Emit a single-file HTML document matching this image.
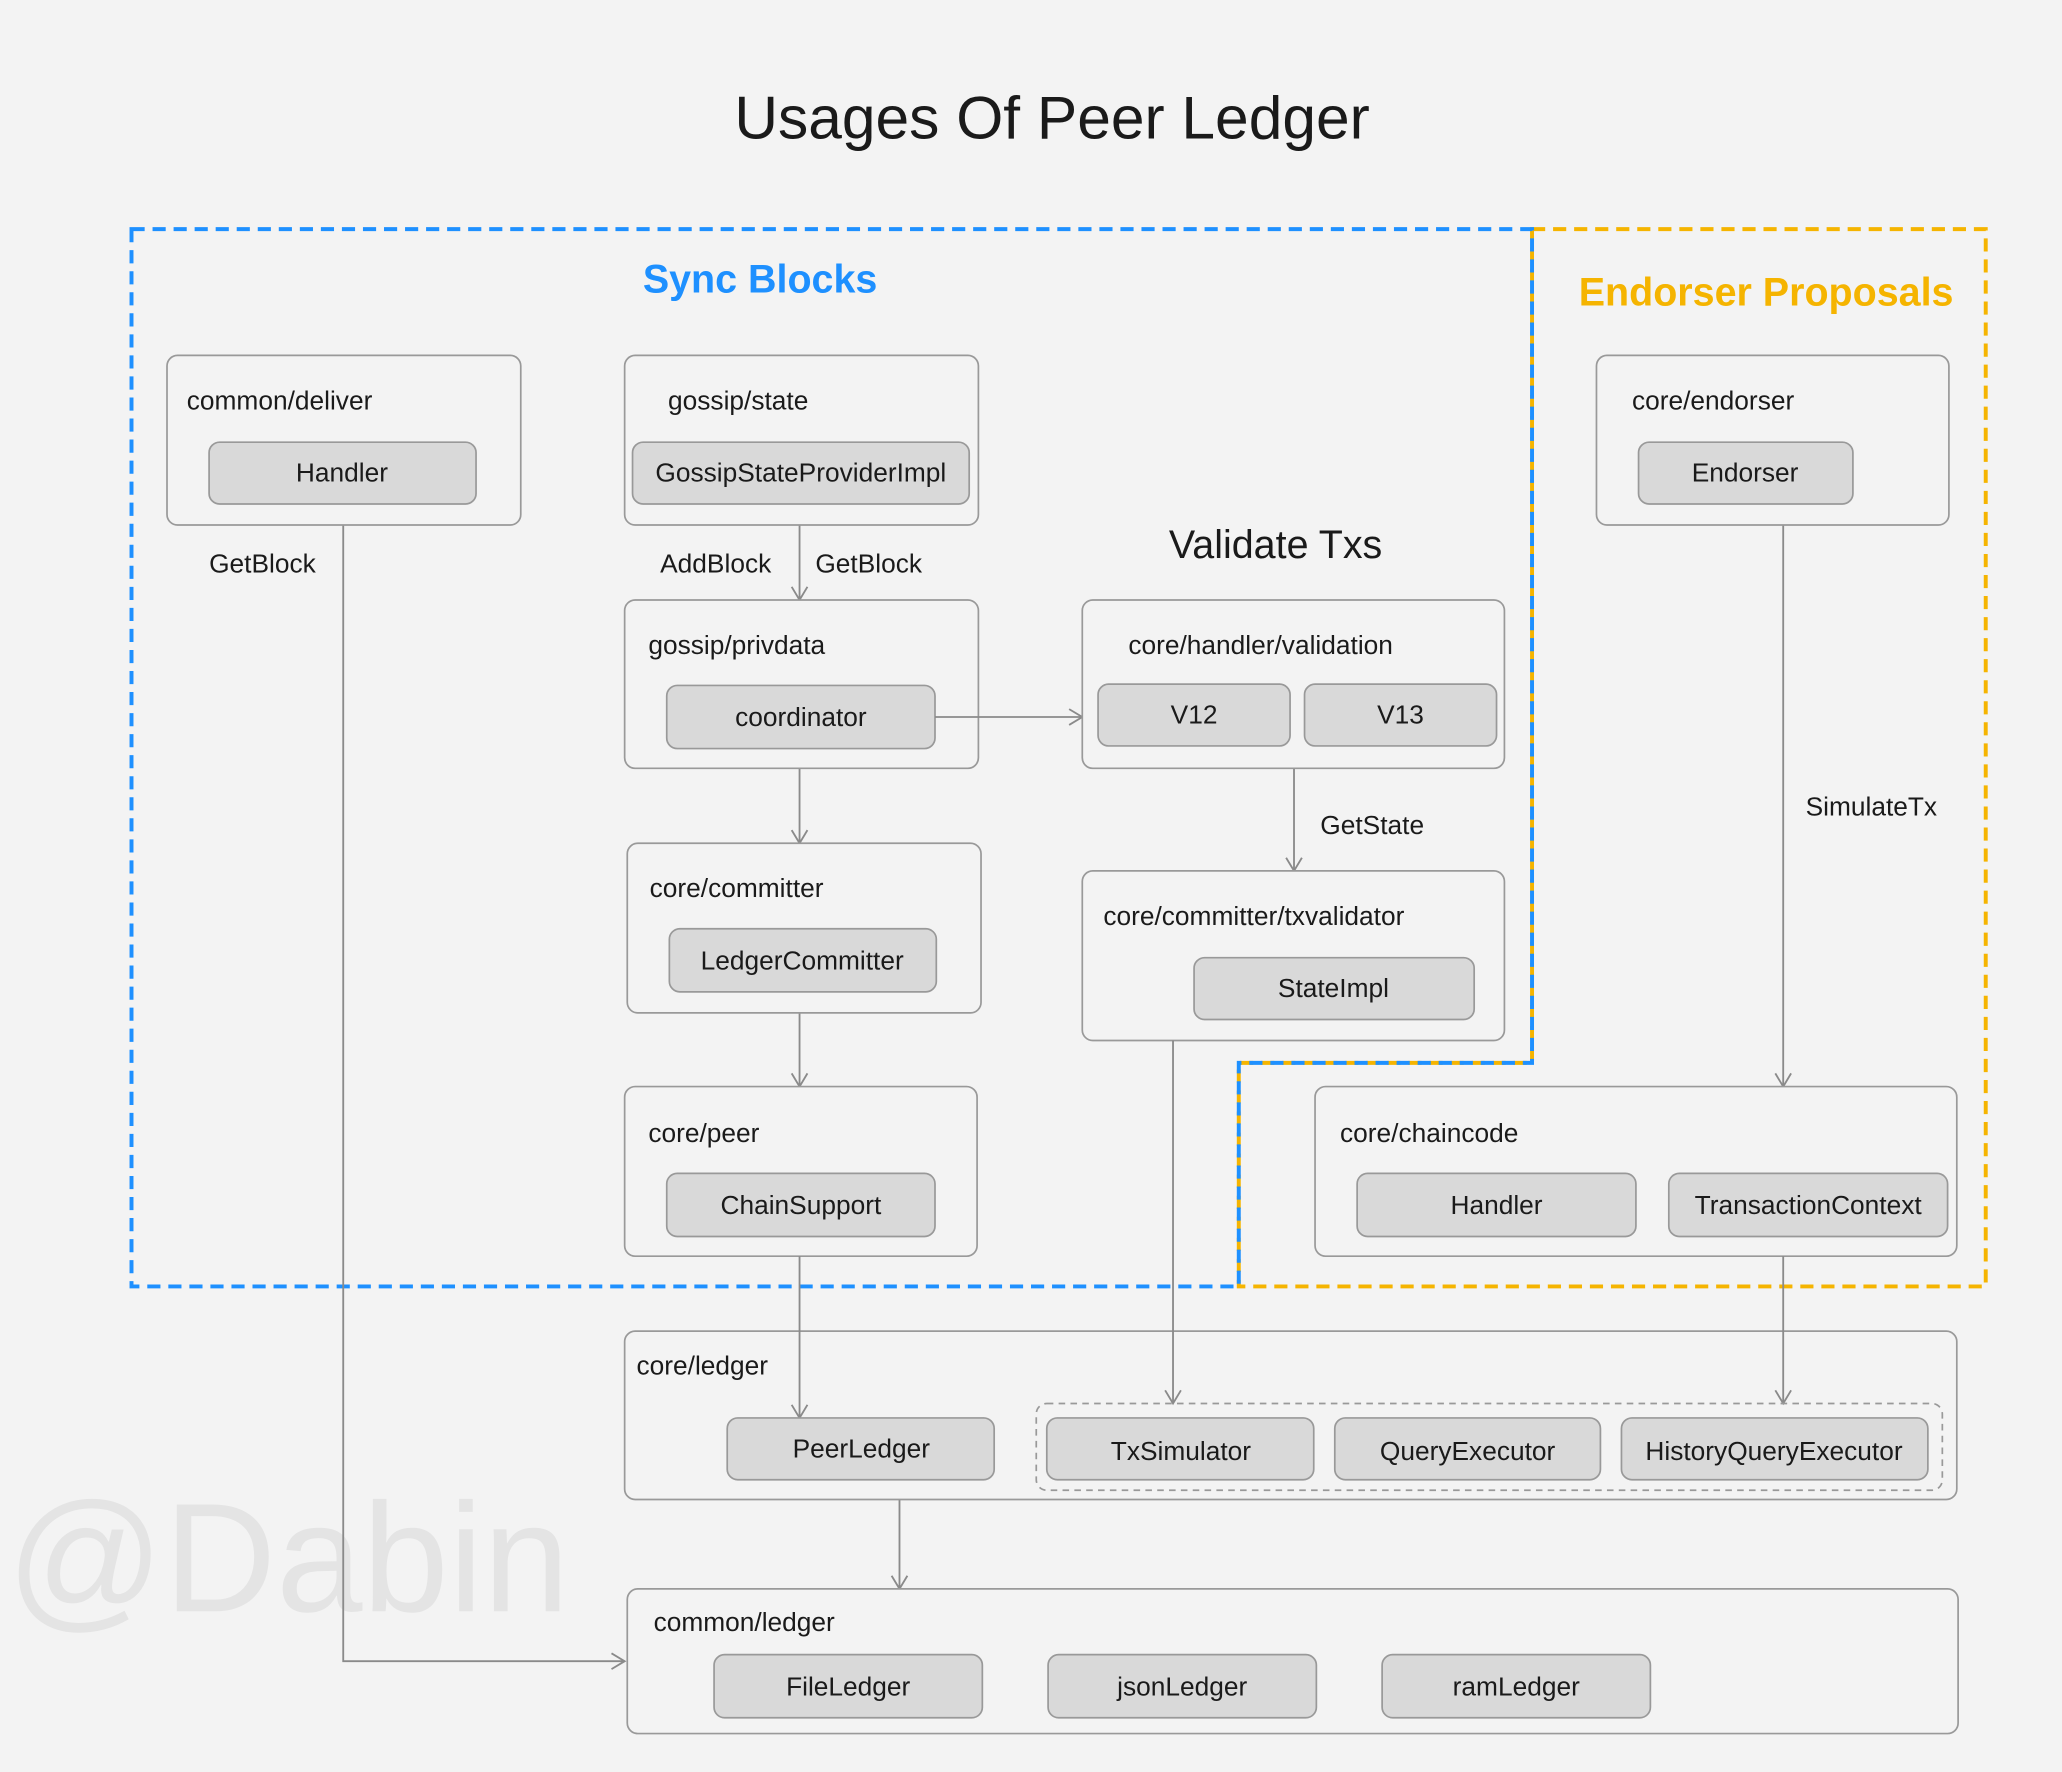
<!DOCTYPE html>
<html><head><meta charset="utf-8"><style>
html,body{margin:0;padding:0;background:#f3f3f3;}
svg{display:block;}
text{font-family:"Liberation Sans","DejaVu Sans",sans-serif;fill:#1a1a1a;}
.box{fill:#f3f3f3;stroke:#999;stroke-width:1.3;}
.pill{fill:#d9d9d9;stroke:#999;stroke-width:1.3;}
.lbl{font-size:20px;}
.pt{font-size:20px;text-anchor:middle;}
.ln{stroke:#8a8a8a;stroke-width:1.4;fill:none;}
</style></head><body>
<svg width="2062" height="1772" viewBox="0 0 1568 1347" xmlns="http://www.w3.org/2000/svg">
<defs><marker id="a" markerWidth="14" markerHeight="14" refX="11" refY="7" orient="auto" markerUnits="userSpaceOnUse"><path d="M1,1 L11,7 L1,13" fill="none" stroke="#8a8a8a" stroke-width="1.4"/></marker></defs>
<rect width="1568" height="1347" fill="#f3f3f3"/>
<text x="5" y="1225" style="font-size:118px;fill:#e4e4e4">@Dabin</text>
<text x="800" y="105" style="font-size:46px;text-anchor:middle">Usages Of Peer Ledger</text>

<path d="M1165,174 H1510 V978 H942 V808 H1165 Z" fill="none" stroke="#f5b400" stroke-width="3" stroke-dasharray="10,6"/>
<path d="M100,174 H1165 V808 H942 V978 H100 Z" fill="none" stroke="#1e90ff" stroke-width="3" stroke-dasharray="10,6"/>
<text x="578" y="222" style="font-size:30px;fill:#1e90ff;text-anchor:middle;font-weight:bold">Sync Blocks</text>
<text x="1343" y="232" style="font-size:30px;fill:#f5b400;text-anchor:middle;font-weight:bold">Endorser Proposals</text>
<text x="970" y="424" style="font-size:30px;text-anchor:middle">Validate Txs</text>

<path class="ln" d="M261,399 V1263 H475" marker-end="url(#a)"/>
<path class="ln" d="M608,399 V456" marker-end="url(#a)"/>
<path class="ln" d="M608,584 V641" marker-end="url(#a)"/>
<path class="ln" d="M608,770 V826" marker-end="url(#a)"/>
<path class="ln" d="M984,584 V662" marker-end="url(#a)"/>
<path class="ln" d="M1356,399 V826" marker-end="url(#a)"/>
<path class="ln" d="M684,1125 V1208" marker-end="url(#a)"/>
<text class="lbl" x="159" y="435">GetBlock</text>
<text class="lbl" x="502" y="435">AddBlock</text>
<text class="lbl" x="620" y="435">GetBlock</text>
<text class="lbl" x="1004" y="634">GetState</text>
<text class="lbl" x="1373" y="620">SimulateTx</text>

<rect class="box" x="127" y="270" width="269" height="129" rx="8"/>
<text class="lbl" x="142" y="311">common/deliver</text>
<rect class="pill" x="159" y="336" width="203" height="47" rx="8"/><text class="pt" x="260" y="366">Handler</text>

<rect class="box" x="475" y="270" width="269" height="129" rx="8"/>
<text class="lbl" x="508" y="311">gossip/state</text>
<rect class="pill" x="481" y="336" width="256" height="47" rx="8"/><text class="pt" x="609" y="366">GossipStateProviderImpl</text>

<rect class="box" x="1214" y="270" width="268" height="129" rx="8"/>
<text class="lbl" x="1241" y="311">core/endorser</text>
<rect class="pill" x="1246" y="336" width="163" height="47" rx="8"/><text class="pt" x="1327" y="366">Endorser</text>

<rect class="box" x="475" y="456" width="269" height="128" rx="8"/>
<text class="lbl" x="493" y="497">gossip/privdata</text>
<rect class="pill" x="507" y="521" width="204" height="48" rx="8"/><text class="pt" x="609" y="552">coordinator</text>
<path class="ln" d="M711,545 H823" marker-end="url(#a)"/>

<rect class="box" x="823" y="456" width="321" height="128" rx="8"/>
<text class="lbl" x="858" y="497">core/handler/validation</text>
<rect class="pill" x="835" y="520" width="146" height="47" rx="8"/><text class="pt" x="908" y="550">V12</text>
<rect class="pill" x="992" y="520" width="146" height="47" rx="8"/><text class="pt" x="1065" y="550">V13</text>

<rect class="box" x="477" y="641" width="269" height="129" rx="8"/>
<text class="lbl" x="494" y="682">core/committer</text>
<rect class="pill" x="509" y="706" width="203" height="48" rx="8"/><text class="pt" x="610" y="737">LedgerCommitter</text>

<rect class="box" x="823" y="662" width="321" height="129" rx="8"/>
<text class="lbl" x="839" y="703">core/committer/txvalidator</text>
<rect class="pill" x="908" y="728" width="213" height="47" rx="8"/><text class="pt" x="1014" y="758">StateImpl</text>

<rect class="box" x="475" y="826" width="268" height="129" rx="8"/>
<text class="lbl" x="493" y="868">core/peer</text>
<rect class="pill" x="507" y="892" width="204" height="48" rx="8"/><text class="pt" x="609" y="923">ChainSupport</text>

<rect class="box" x="1000" y="826" width="488" height="129" rx="8"/>
<text class="lbl" x="1019" y="868">core/chaincode</text>
<rect class="pill" x="1032" y="892" width="212" height="48" rx="8"/><text class="pt" x="1138" y="923">Handler</text>
<rect class="pill" x="1269" y="892" width="212" height="48" rx="8"/><text class="pt" x="1375" y="923">TransactionContext</text>

<rect class="box" x="475" y="1012" width="1013" height="128" rx="8"/>
<path class="ln" d="M608,955 V1078" marker-end="url(#a)"/>
<path class="ln" d="M892,791 V1067" marker-end="url(#a)"/>
<path class="ln" d="M1356,955 V1067" marker-end="url(#a)"/>
<text class="lbl" x="484" y="1045">core/ledger</text>
<rect x="788" y="1067" width="689" height="66" rx="8" fill="none" stroke="#999" stroke-width="1.3" stroke-dasharray="5,4"/>
<rect class="pill" x="553" y="1078" width="203" height="47" rx="8"/><text class="pt" x="655" y="1108">PeerLedger</text>
<rect class="pill" x="796" y="1078" width="203" height="47" rx="8"/><text class="pt" x="898" y="1110">TxSimulator</text>
<rect class="pill" x="1015" y="1078" width="202" height="47" rx="8"/><text class="pt" x="1116" y="1110">QueryExecutor</text>
<rect class="pill" x="1233" y="1078" width="233" height="47" rx="8"/><text class="pt" x="1349" y="1110">HistoryQueryExecutor</text>

<rect class="box" x="477" y="1208" width="1012" height="110" rx="8"/>
<text class="lbl" x="497" y="1240">common/ledger</text>
<rect class="pill" x="543" y="1258" width="204" height="48" rx="8"/><text class="pt" x="645" y="1289">FileLedger</text>
<rect class="pill" x="797" y="1258" width="204" height="48" rx="8"/><text class="pt" x="899" y="1289">jsonLedger</text>
<rect class="pill" x="1051" y="1258" width="204" height="48" rx="8"/><text class="pt" x="1153" y="1289">ramLedger</text>
</svg>
</body></html>
